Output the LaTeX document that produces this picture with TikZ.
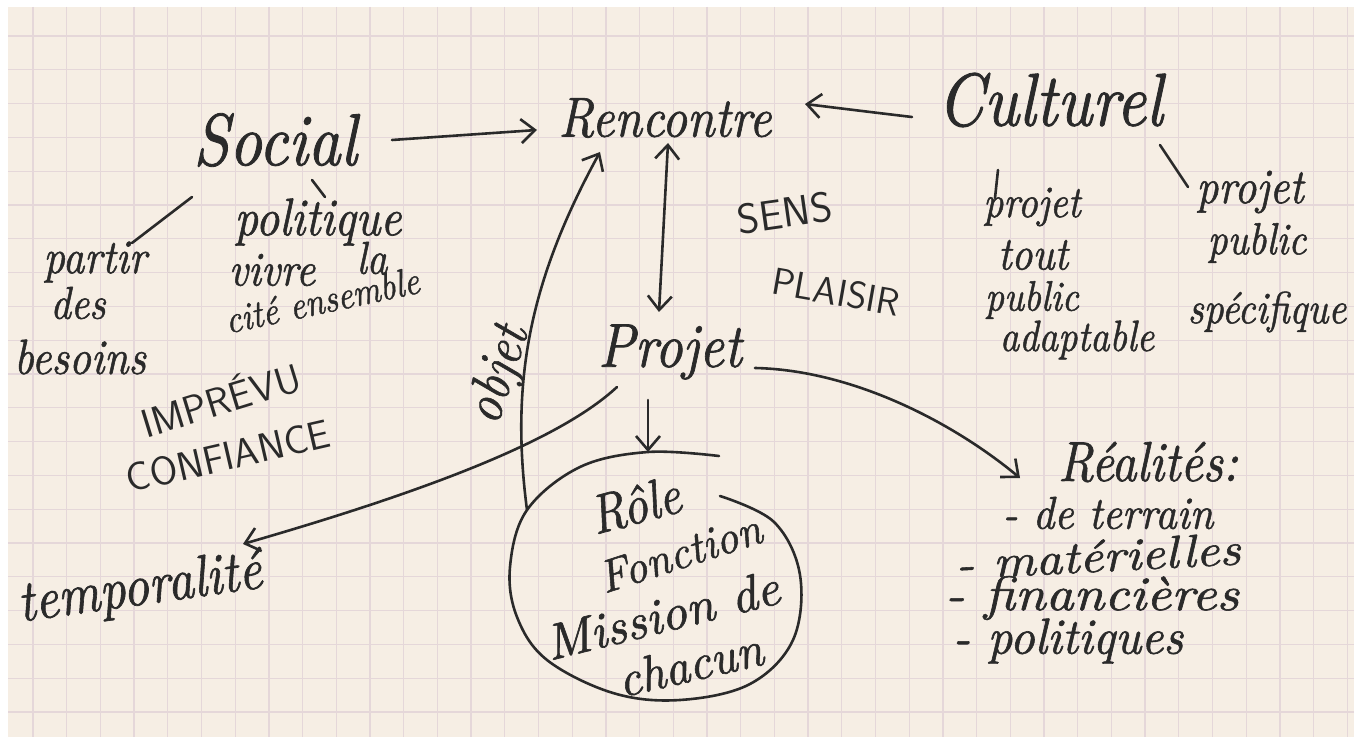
\documentclass[tikz,border=0pt]{standalone}
\usepackage{fontspec}
\newfontfamily\handfont{lmroman10-italic.otf}[FakeBold=1.2]
\usetikzlibrary{arrows.meta,calc}
\definecolor{paper}{RGB}{246,238,228}
\definecolor{gridc}{RGB}{229,215,217}
\definecolor{ink}{RGB}{42,42,42}
\newcommand{\hwfs}[1]{\fontsize{#1}{#1}\selectfont}
\tikzset{hand/.tip={Straight Barb[length=14pt,width=24pt]}}
\begin{document}
\begin{tikzpicture}[x=1pt,y=1pt,
  hw/.style={text=ink, inner sep=0pt, font=\handfont, rotate=#1, yscale=1.15},
  hw/.default=0,
  caps/.style={text=ink, inner sep=0pt, font=\sffamily, rotate=#1},
  caps/.default=0,
  pen/.style={draw=ink, line width=2.6pt, line cap=round, line join=round},
  arr/.style={pen, -hand},
  darr/.style={pen, hand-hand},
  gridline/.style={draw=gridc, line width=1.3pt}
]
\useasboundingbox (0,0) rectangle (1361,-743);
\fill[white] (0,0) rectangle (1361,-743);
\fill[paper] (8,-7) rectangle (1354,-737);
\foreach \i in {0,...,39} \draw[gridline] ({33+33.7*\i},-7) -- ({33+33.7*\i},-737);
\foreach \j in {0,...,20} \draw[gridline] (8,{-36-33.8*\j}) -- (1354,{-36-33.8*\j});

% main words
\node[hw] (social) at (275,-140) {\hwfs{64}Social};
\node[hw] (rencontre) at (665,-118) {\hwfs{49}Rencontre};
\node[hw] (culturel) at (1050,-100) {\hwfs{65}Culturel};
\node[hw] (projet) at (670,-352) {\hwfs{54}Projet};

% Social branch
\node[hw] (partir) at (95,-262) {\hwfs{42}partir};
\node[hw] (des) at (78,-303) {\hwfs{40}des};
\node[hw] (besoins) at (80,-357) {\hwfs{43}besoins};
\node[hw] (politique) at (318,-222) {\hwfs{46}politique};
\node[hw] (vivre) at (272,-270) {\hwfs{42}vivre};
\node[hw] (la) at (372,-258) {\hwfs{40}la};
\node[hw=12] (cite) at (322,-300) {\hwfs{34}cité ensemble};

% capitals
\node[caps=17] (imprevu) at (220,-398) {\hwfs{40}\addfontfeatures{LetterSpace=8}IMPRÉVU};
\node[caps=13] (confiance) at (228,-456) {\hwfs{40}\addfontfeatures{LetterSpace=12}CONFIANCE};
\node[caps=8] (sens) at (785,-213) {\hwfs{42}\addfontfeatures{LetterSpace=8}SENS};
\node[caps=-10] (plaisir) at (836,-292) {\hwfs{38}\addfontfeatures{LetterSpace=6}PLAISIR};

\node[hw=8] (temporalite) at (140,-590) {\hwfs{51}temporalité};
\node[hw=72] (objet) at (500,-375) {\hwfs{48}objet};

% inside the loop
\node[hw=15] (role) at (635,-505) {\hwfs{48}Rôle};
\node[hw=18, xscale=1.1] (fonction) at (680,-553) {\hwfs{40}Fonction};
\node[hw=14, xscale=1.15] (mission) at (662,-615) {\hwfs{44}Mission de};
\node[hw=13, xscale=1.1] (chacun) at (690,-664) {\hwfs{44}chacun};

% Réalités
\node[hw] (realites) at (1148,-462) {\hwfs{49}Réalités:};
\node[hw, xscale=1.05] (terrain) at (1108,-513) {\hwfs{40}- de terrain};
\node[hw=3, xscale=1.3] (materielles) at (1098,-556) {\hwfs{40}- matérielles};
\node[hw, xscale=1.3] (financieres) at (1092,-598) {\hwfs{42}- financières};
\node[hw, xscale=1.1] (politiques) at (1068,-641) {\hwfs{44}- politiques};

% Culturel branch
\node[hw] (cpa) at (1032,-207) {\hwfs{39}projet};
\node[hw] (tout) at (1033,-255) {\hwfs{41}tout};
\node[hw] (publica) at (1032,-300) {\hwfs{37}public};
\node[hw] (adaptable) at (1077,-340) {\hwfs{38}adaptable};
\node[hw] (cpb) at (1250,-192) {\hwfs{43}projet};
\node[hw] (publicb) at (1257,-243) {\hwfs{39}public};
\node[hw] (specifique) at (1267,-312) {\hwfs{39}spécifique};

% the open loop round Rôle ...
\draw[pen] plot[smooth, tension=0.6] coordinates {(719,-456) (648,-452) (580,-467) (527,-510) (510,-567) (517,-617) (547,-660) (613,-693) (680,-700) (750,-684) (793,-640) (800,-575) (774,-522) (720,-496)};
\coordinate (loopleft) at (527,-510);

% connectors
\draw[pen] ($(social)+(-83,-57)$) -- ($(partir)+(37,19)$);
\draw[pen] ($(social)+(37,-40)$) -- ($(politique)+(7,25)$);
\draw[arr] ($(social)+(117,0)$) -- ($(rencontre)+(-128,-12)$);
\draw[arr] ($(culturel)+(-138,-17)$) .. controls ($(culturel)+(-180,-12)$) .. ($(rencontre)+(140,14)$);
\draw[pen] ($(culturel)+(-52,-70)$) -- ($(cpa)+(-37,9)$);
\draw[pen] ($(culturel)+(110,-45)$) -- ($(cpb)+(-62,5)$);
\draw[darr] ($(projet)+(-11,40)$) -- ($(rencontre)+(3,-25)$);
\draw[arr] (loopleft) .. controls (510,-380) and (530,-280) .. ($(rencontre)+(-65,-34)$);
\draw[arr] ($(projet)+(-53,-35)$) .. controls (560,-440) and (430,-490) .. ($(temporalite)+(103,46)$);
\draw[arr] ($(projet)+(-22,-48)$) -- ($(role)+(13,53)$);
\draw[arr] ($(projet)+(85,-16)$) .. controls (850,-370) and (950,-420) .. ($(realites)+(-128,-16)$);
\end{tikzpicture}
\end{document}
